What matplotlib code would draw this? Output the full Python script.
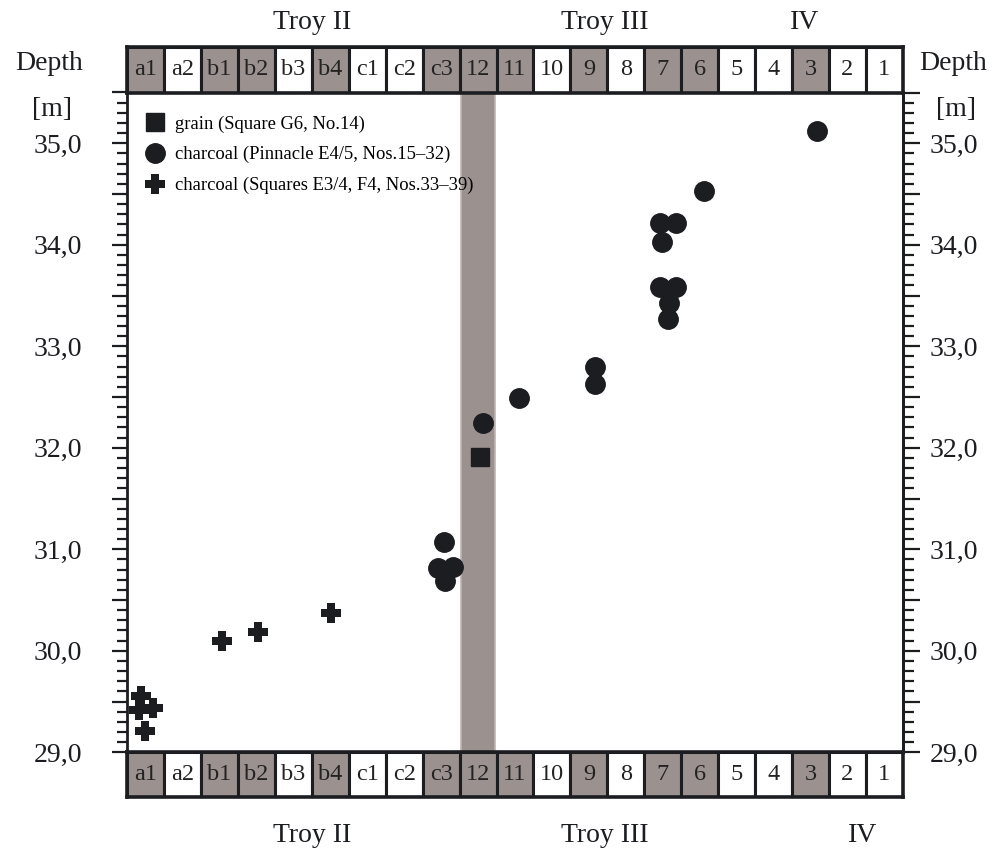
import numpy as np
import matplotlib
matplotlib.use("Agg")
import matplotlib.pyplot as plt
from matplotlib.ticker import MultipleLocator, FuncFormatter
from matplotlib.transforms import blended_transform_factory
from matplotlib.path import Path

plt.rcParams['font.family'] = ['Liberation Serif', 'DejaVu Serif']

# ---- data ----
phases = ['a1', 'a2', 'b1', 'b2', 'b3', 'b4', 'c1', 'c2', 'c3', '12', '11',
          '10', '9', '8', '7', '6', '5', '4', '3', '2', '1']
shaded_phases = ['a1', 'b1', 'b2', 'b4', 'c3', '12', '11', '9', '7', '6', '3']
highlight_phase = '12'

# x in phase-cell units (0 = left edge of a1), y = depth [m]
grain_x = [9.55]
grain_y = [31.91]

charcoal_pin_x = [8.59, 8.41, 8.81, 8.61, 9.62, 10.61, 12.66, 12.66,
                  14.42, 14.85, 14.48, 14.42, 14.87, 14.67, 14.65, 15.63, 18.67]
charcoal_pin_y = [31.07, 30.82, 30.83, 30.69, 32.24, 32.49, 32.80, 32.63,
                  34.21, 34.21, 34.03, 33.58, 33.58, 33.43, 33.27, 34.53, 35.12]

charcoal_sq_x = [0.37, 0.32, 0.70, 0.48, 2.56, 3.54, 5.51]
charcoal_sq_y = [29.55, 29.42, 29.44, 29.21, 30.10, 30.19, 30.37]

labels = ['grain (Square G6, No.14)',
          'charcoal (Pinnacle E4/5, Nos.15\u201332)',
          'charcoal (Squares E3/4, F4, Nos.33\u201339)']

periods_top = [('Troy II', 5.0), ('Troy III', 12.93), ('IV', 18.34)]
periods_bottom = [('Troy II', 5.0), ('Troy III', 12.93), ('IV', 19.9)]

ymin, ymax = 29.0, 35.5

# ---- style ----
INK = '#1c1d21'
GRAY = '#9b918f'
W, H = 1001, 849
fig = plt.figure(figsize=(W / 100, H / 100), dpi=100)

# thick plus marker
t, e = 0.18, 0.5
plus_verts = [(-t, e), (t, e), (t, t), (e, t), (e, -t), (t, -t), (t, -e),
              (-t, -e), (-t, -t), (-e, -t), (-e, t), (-t, t), (-t, e)]
plus_marker = Path(plus_verts, closed=True)

def px_rect(x0, y0, x1, y1):
    return [x0 / W, 1 - y1 / H, (x1 - x0) / W, (y1 - y0) / H]

L, R = 127.3, 902.7
ax = fig.add_axes(px_rect(L, 92.5, R, 752.3))
ax_top = fig.add_axes(px_rect(L, 46.5, R, 92.5))
ax_bot = fig.add_axes(px_rect(L, 752.3, R, 797))

n = len(phases)
ax.set_xlim(0, n)
ax.set_ylim(ymin, ymax)

hi = phases.index(highlight_phase)
ax.axvspan(hi + 0.03, hi + 0.97, facecolor=GRAY, edgecolor='#bdb5b3',
           linewidth=1.2, zorder=1)

ax.plot(grain_x, grain_y, linestyle='none', marker='s', ms=12.5, color=INK,
        zorder=3, label=labels[0])
ax.plot(charcoal_pin_x, charcoal_pin_y, linestyle='none', marker='o', ms=14,
        color=INK, zorder=3, label=labels[1])
ax.plot(charcoal_sq_x, charcoal_sq_y, linestyle='none', marker=plus_marker,
        ms=15, color=INK, markeredgewidth=0, zorder=3, label=labels[2])

leg = ax.legend(loc='upper left', bbox_to_anchor=(0.0, 0.985), frameon=False,
                fontsize=13.4, handletextpad=0.25, labelspacing=0.72,
                handlelength=1.6, borderaxespad=0.3)

ax.set_xticks([])
for s in ['top', 'bottom']:
    ax.spines[s].set_visible(False)
for s in ['left', 'right']:
    ax.spines[s].set_linewidth(2.0)
    ax.spines[s].set_color(INK)

fmt = FuncFormatter(lambda v, p: (f'{v:.1f}'.replace('.', ',')
                                  if abs(v - round(v)) < 1e-6 else ''))
ax.yaxis.set_major_locator(MultipleLocator(0.5))
ax.yaxis.set_minor_locator(MultipleLocator(0.1))
ax.yaxis.set_major_formatter(fmt)
ax.tick_params(axis='y', which='major', direction='out', length=10.5, width=1.6,
               color=INK, labelsize=20, pad=22, labelcolor=INK)
ax.tick_params(axis='y', which='minor', direction='out', length=7.5, width=1.6,
               color=INK)

ax2 = ax.twinx()
ax2.set_ylim(ymin, ymax)
ax2.yaxis.set_major_locator(MultipleLocator(0.5))
ax2.yaxis.set_minor_locator(MultipleLocator(0.1))
ax2.yaxis.set_major_formatter(fmt)
ax2.tick_params(axis='y', which='major', direction='out', length=12.5, width=1.6,
                color=INK, labelsize=20, pad=7, labelcolor=INK)
ax2.tick_params(axis='y', which='minor', direction='out', length=8, width=1.6,
                color=INK)
for s in ['top', 'bottom', 'left']:
    ax2.spines[s].set_visible(False)
ax2.spines['right'].set_linewidth(2.0)
ax2.spines['right'].set_color(INK)

# ---- phase bands ----
cell_colors = [GRAY if p in shaded_phases else 'white' for p in phases]
for band in (ax_top, ax_bot):
    band.set_xlim(0, n)
    band.set_ylim(0, 1)
    band.bar(np.arange(n) + 0.5, 1, width=1, bottom=0, color=cell_colors,
             edgecolor=INK, linewidth=2.2)
    for i, p in enumerate(phases):
        band.text(i + 0.5, 0.5, p, ha='center', va='center', fontsize=17.5,
                  color='#222222')
    band.set_xticks([])
    band.set_yticks([])
    for s in band.spines.values():
        s.set_linewidth(2.6)
        s.set_color(INK)

tt = blended_transform_factory(ax_top.transData, fig.transFigure)
for name, xc in periods_top:
    ax_top.text(xc, 1 - 29.3 / H, name, transform=tt, ha='center',
                va='baseline', fontsize=20, color=INK)
tb = blended_transform_factory(ax_bot.transData, fig.transFigure)
for name, xc in periods_bottom:
    ax_bot.text(xc, 1 - 841.5 / H, name, transform=tb, ha='center',
                va='baseline', fontsize=20, color=INK)

for xc in (49, 953):
    fig.text(xc / W, 1 - 70 / H, 'Depth', ha='center', va='baseline',
             fontsize=20, color=INK)
    fig.text((xc + 3) / W, 1 - 110 / H, '[m]', ha='center', va='center',
             fontsize=20, color=INK)

fig.savefig('out.png', dpi=100)
